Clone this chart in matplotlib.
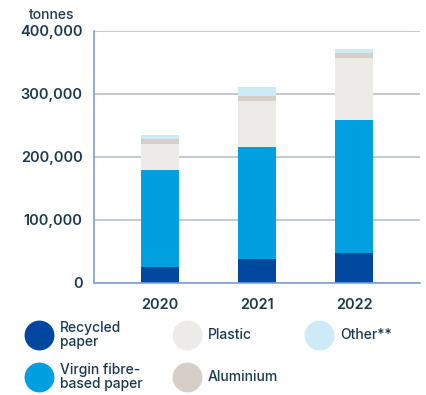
import matplotlib.pyplot as plt
from matplotlib.lines import Line2D
import numpy as np

# packaging material by year, tonnes
years = ["2020", "2021", "2022"]
recycled = [25000, 37500, 47000]
virgin = [154000, 178000, 211000]
plastic = [41000, 73000, 98500]
aluminium = [8000, 8000, 8000]
other = [6000, 14300, 6300]

series_names = ["Recycled\npaper", "Virgin fibre-\nbased paper", "Plastic", "Aluminium", "Other**"]
series_colors = ["#0047a0", "#009fdf", "#edebe7", "#d5cfc8", "#cdeaf7"]

text_col = "#1d3a4c"
plt.rcParams['font.family'] = ['Inter', 'DejaVu Sans']

fig = plt.figure(figsize=(4.26, 3.95), dpi=100)
ax = fig.add_axes([0.22, 0.2843, 0.766, 0.638])

x = np.arange(len(years))
bottom = np.zeros(len(years))
for vals, col in zip([recycled, virgin, plastic, aluminium, other], series_colors):
    ax.bar(x, vals, width=0.39, bottom=bottom, color=col, zorder=3)
    bottom += np.array(vals)

ax.set_xlim(-0.68, 2.68)
ax.set_ylim(0, 400000)
ax.set_yticks([0, 100000, 200000, 300000, 400000])
ax.set_yticklabels(["0", "100,000", "200,000", "300,000", "400,000"])
ax.set_xticks(x)
ax.set_xticklabels(years)
ax.yaxis.grid(True, color="#b9c1c9", linewidth=1.2, zorder=0)
for s in ["top", "right"]:
    ax.spines[s].set_visible(False)
ax.spines["left"].set_color("#7d9ed6")
ax.spines["bottom"].set_color("#7d9ed6")
ax.spines["left"].set_linewidth(1.2)
ax.spines["bottom"].set_linewidth(1.2)
ax.spines["bottom"].set_zorder(4)
ax.tick_params(length=0, colors=text_col, labelsize=10.5)
ax.tick_params(axis='y', pad=8)
ax.tick_params(axis='x', pad=11)
for lab in ax.get_xticklabels() + ax.get_yticklabels():
    lab.set_fontweight("semibold")

fig.text(29 / 426, 1 - 15 / 395, "tonnes", color=text_col, fontsize=10,
         fontweight="medium", va="center", ha="left")

# legend built by hand: three columns, two rows
legend_pos = [(39, 335), (39, 377), (187, 335), (187, 377), (319, 335)]
for (px, py), name, col in zip(legend_pos, series_names, series_colors):
    fx, fy = px / 426, 1 - py / 395
    fig.add_artist(Line2D([fx], [fy], marker="o", markersize=20.5, color=col,
                          linestyle="none", transform=fig.transFigure))
    fig.text(fx + 21 / 426, fy, name, color=text_col, fontsize=10,
             fontweight="medium", va="center", ha="left", linespacing=1.05)

fig.savefig("out.png", dpi=100)
